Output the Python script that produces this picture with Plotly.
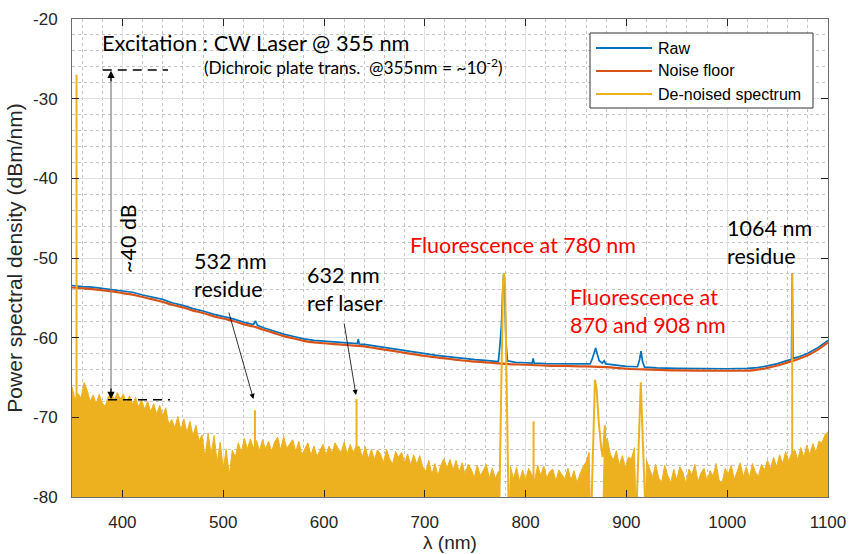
import plotly.graph_objects as go

# ---------------- data ----------------
# Noise floor (dBm/nm)
floor_x = [350, 360, 370, 380, 390, 400, 410, 420, 430, 440, 450, 460, 470, 480, 490, 500,
           510, 520, 530, 540, 550, 560, 570, 580, 590, 600, 610, 620, 630, 640, 650, 660,
           670, 680, 690, 700, 710, 720, 730, 740, 750, 760, 770, 780, 800, 820, 840, 860,
           880, 900, 925, 950, 1000, 1025, 1040, 1050, 1060, 1070, 1080, 1090, 1100]
floor_y = [-53.7, -53.8, -53.9, -54.05, -54.2, -54.4, -54.6, -54.9, -55.2, -55.5, -55.9, -56.2,
           -56.6, -56.9, -57.3, -57.6, -57.9, -58.3, -58.6, -59.0, -59.4, -59.8, -60.1, -60.4,
           -60.6, -60.7, -60.8, -60.9, -61.0, -61.1, -61.3, -61.5, -61.7, -61.9, -62.1, -62.3,
           -62.45, -62.6, -62.75, -62.9, -63.0, -63.1, -63.2, -63.3, -63.4, -63.5, -63.55, -63.6,
           -63.7, -63.9, -64.0, -64.1, -64.15, -64.1, -63.8, -63.5, -63.1, -62.7, -62.2, -61.5, -60.6]

# Raw spectrum
raw_x = [350, 360, 370, 380, 390, 400, 410, 420, 430, 440, 450, 460, 470, 480, 490, 500, 510,
         520, 530, 532, 534, 540, 550, 560, 570, 580, 590, 600, 610, 620, 630, 633, 634, 635,
         640, 650, 660, 670, 680, 690, 700, 710, 720, 730, 740, 750, 760, 770, 773, 774.5, 776,
         777.5, 778.3, 779.3, 780.5, 782, 790, 800, 806.5, 807.5, 808.5, 820, 840, 860, 864, 866,
         868, 869.5, 871, 873, 876, 878, 879.5, 890, 900, 911, 913, 914.5, 916, 918, 930, 950,
         975, 1000, 1020, 1030, 1040, 1050, 1060, 1063.8, 1064.5, 1065.2, 1070, 1080, 1090, 1100]
raw_y = [-53.45, -53.6, -53.65, -53.8, -53.95, -54.15, -54.3, -54.65, -54.95, -55.2, -55.65,
         -55.95, -56.35, -56.65, -57.05, -57.35, -57.65, -58.05, -58.35, -57.9, -58.45, -58.75,
         -59.15, -59.55, -59.85, -60.15, -60.35, -60.45, -60.55, -60.65, -60.75, -60.75, -60.2,
         -60.8, -60.85, -61.05, -61.25, -61.45, -61.65, -61.85, -62.05, -62.2, -62.35, -62.5,
         -62.65, -62.75, -62.85, -62.95, -63.0, -61.0, -58.5, -53.5, -51.9, -54.5, -60.5, -62.9,
         -63.1, -63.15, -63.2, -62.6, -63.2, -63.25, -63.3, -63.35, -63.3, -62.7, -61.8, -61.3,
         -62.0, -62.9, -63.2, -62.9, -63.3, -63.45, -63.6, -63.65, -62.8, -61.7, -63.0, -63.7,
         -63.8, -63.85, -63.9, -63.9, -63.85, -63.75, -63.55, -63.25, -62.85, -62.75, -51.9,
         -62.6, -62.45, -61.95, -61.25, -60.35]

# De-noised spectrum: noisy residual envelope sampled every 3 nm (-90 = below display floor)
dn_x = list(range(350, 1101, 3))
dn_y = [
    -66.2, -67.8, -67.0, -67.6, -65.6, -66.6, -68.0, -67.2, -68.3, -67.1,   # 350-377
    -68.2, -68.6, -67.4, -67.0, -67.8, -66.9, -67.7, -67.1, -68.2, -67.3,   # 380-407
    -68.4, -67.5, -68.7, -67.8, -69.0, -68.0, -69.3, -68.3, -69.6, -68.5,   # 410-437
    -69.8, -68.8, -70.9, -70.3, -71.3, -69.9, -71.6, -70.2, -71.9, -70.5,   # 440-467
    -72.3, -71.0, -73.0, -72.2, -75.1, -72.0, -74.6, -72.3, -75.6, -73.1,   # 470-497
    -76.4, -74.0, -77.3, -74.1, -75.0, -73.2, -74.4, -72.6, -74.0, -72.7,   # 500-527
    -73.9, -72.9, -74.2, -72.8, -74.0, -73.0, -74.3, -73.1, -72.5, -74.1,   # 530-557
    -72.4, -73.9, -73.4, -72.8, -74.3, -73.0, -74.7, -74.0, -73.2, -74.8,   # 560-587
    -73.6, -74.9, -74.1, -73.4, -74.7, -73.6, -74.5, -73.2, -73.9, -74.4,   # 590-617
    -73.1, -74.6, -73.4, -74.4, -73.6, -73.7, -75.0, -73.7, -75.2, -74.0,   # 620-647
    -75.3, -74.1, -74.6, -75.7, -74.0, -75.2, -75.9, -74.3, -75.0, -74.4,   # 650-677
    -75.7, -74.6, -76.0, -74.7, -75.9, -74.8, -76.2, -76.8, -75.4, -77.2,   # 680-707
    -75.8, -77.3, -76.0, -75.2, -76.4, -75.3, -76.6, -75.4, -76.9, -75.7,   # 710-737
    -77.2, -75.9, -76.5, -77.6, -76.0, -77.3, -76.7, -75.9, -77.6, -76.4,   # 740-767
    -77.7, -76.8, -90.0, -90.0, -90.0, -76.2, -77.7, -76.3, -78.0, -76.6,   # 770-797
    -77.8, -76.4, -77.1, -77.9, -76.0, -77.3, -76.1, -77.6, -76.8, -76.5,   # 800-827
    -78.0, -76.6, -77.2, -77.7, -76.4, -77.9, -76.7, -78.2, -77.1, -76.2,   # 830-857
    -75.6, -74.4, -90.0, -90.0, -90.0, -90.0, -74.3, -72.6, -74.6, -75.4,   # 860-887
    -74.2, -76.0, -74.8, -76.3, -75.0, -75.2, -73.8, -90.0, -90.0, -90.0,   # 890-917
    -75.4, -76.4, -77.5, -75.9, -77.6, -78.1, -76.0, -77.3, -78.2, -76.5,   # 920-947
    -77.9, -76.2, -76.9, -78.3, -76.5, -77.2, -75.9, -78.1, -77.0, -76.4,   # 950-977
    -78.0, -76.7, -77.4, -75.8, -77.9, -78.2, -76.4, -77.1, -76.0, -77.8,   # 980-1007
    -76.6, -75.7, -77.5, -76.2, -77.6, -75.8, -76.9, -77.4, -75.9, -76.6,   # 1010-1037
    -75.4, -76.5, -75.0, -76.2, -74.7, -75.8, -74.3, -75.5, -74.5, -74.1,   # 1040-1067
    -75.3, -73.8, -75.0, -73.5, -74.7, -73.3, -74.4, -73.0, -73.2, -72.2,   # 1070-1097
    -71.8,                                                                  # 1100
]

# Narrow residual lines (nm, peak dBm/nm)
spike_nm = [354.5, 531.5, 632.3, 807.9, 1064.5]
spike_top = [-27.0, -69.1, -67.7, -70.5, -51.9]

# Fluorescence peaks in the de-noised spectrum
p780_x = [773.8, 777.6, 778.6, 779.6, 783.2]
p780_y = [-82.0, -53.0, -51.9, -53.0, -82.0]
p870_x = [865.5, 867.0, 868.8, 870.5, 872.5, 875.0, 876.5, 878.6, 879.5]
p870_y = [-80.5, -72.0, -65.3, -66.5, -70.5, -73.8, -75.0, -71.0, -76.0]
p915_x = [910.3, 912.5, 914.3, 916.0, 918.5]
p915_y = [-80.5, -72.0, -65.6, -72.0, -80.5]

x_ticks = [400, 500, 600, 700, 800, 900, 1000, 1100]
y_ticks = [-80, -70, -60, -50, -40, -30, -20]
y_ticktext = ["-80", "-70", "-60", "-50", "-40", "-30", "-20"]

legend_names = ["Raw", "Noise floor", "De-noised spectrum"]

# ---------------- figure ----------------
C_RAW, C_FLOOR, C_DN = "#0072BD", "#D95319", "#EDB120"
legend_colors = [C_RAW, C_FLOOR, C_DN]
FLOOR_BASE = -90

fig = go.Figure()
fig.add_trace(go.Scatter(x=raw_x, y=raw_y, mode="lines", name="Raw",
                         line=dict(color=C_RAW, width=1.7)))
fig.add_trace(go.Scatter(x=floor_x, y=floor_y, mode="lines", name="Noise floor",
                         line=dict(color=C_FLOOR, width=2.2, shape="spline")))

fill_x = [dn_x[0]] + dn_x + [dn_x[-1]]
fill_y = [FLOOR_BASE] + dn_y + [FLOOR_BASE]
fig.add_trace(go.Scatter(x=fill_x, y=fill_y, mode="lines", fill="toself",
                         fillcolor=C_DN, line=dict(color=C_DN, width=1),
                         name="De-noised spectrum", hoverinfo="skip"))

pk_x, pk_y = [], []
for s, t in zip(spike_nm, spike_top):
    pk_x += [s, s, None]
    pk_y += [FLOOR_BASE, t, None]
for xs, ys in [(p780_x, p780_y), (p870_x, p870_y), (p915_x, p915_y)]:
    pk_x += xs + [None]
    pk_y += ys + [None]
fig.add_trace(go.Scatter(x=pk_x, y=pk_y, mode="lines", name="De-noised spectrum",
                         line=dict(color=C_DN, width=2), connectgaps=False))

AX_FONT = dict(family="Liberation Sans, Arial", size=17, color="#262626")
ANN = "Lato, Open Sans, sans-serif"
AXLINE = "#6e6e6e"

fig.update_layout(
    width=849, height=554,
    margin=dict(l=72, r=21, t=19, b=57),
    paper_bgcolor="white", plot_bgcolor="white",
    showlegend=False,
    xaxis=dict(range=[350, 1100], tickvals=x_ticks, ticks="inside", ticklen=7,
               tickcolor="#262626", showline=True, linecolor=AXLINE, linewidth=1,
               mirror="ticks", showgrid=True, gridcolor="#e0e0e0", gridwidth=1,
               zeroline=False, tickfont=AX_FONT, ticklabelstandoff=10,
               minor=dict(dtick=20, tick0=0, showgrid=True, griddash="dot",
                          gridcolor="#c4c4c4", gridwidth=1),
               title=dict(text="λ (nm)", font=dict(family="Liberation Sans, Arial", size=19,
                                                     color="#262626"), standoff=4),
               automargin=False),
    yaxis=dict(range=[-80, -20], tickvals=y_ticks, ticktext=y_ticktext, ticks="inside",
               ticklen=7, tickcolor="#262626", showline=True, linecolor=AXLINE,
               linewidth=1, mirror="ticks", showgrid=True, gridcolor="#e0e0e0",
               zeroline=False, tickfont=AX_FONT, ticklabelstandoff=10,
               minor=dict(dtick=2, tick0=0, showgrid=True, griddash="dot",
                          gridcolor="#c4c4c4", gridwidth=1),
               title=dict(text="Power spectral density (dBm/nm)",
                          font=dict(family="Liberation Sans, Arial", size=21, color="#262626"),
                          standoff=4),
               automargin=False),
)

# ---- legend box (drawn in paper coordinates) ----
def px2paper_x(px):
    return (px - 72) / 756.0

def px2paper_y(py):
    return (497 - py) / 478.0

fig.add_shape(type="rect", xref="paper", yref="paper",
              x0=px2paper_x(590), x1=px2paper_x(813), y0=px2paper_y(108), y1=px2paper_y(33),
              line=dict(color="#333333", width=1), fillcolor="white", layer="above")
for i, (nm, col) in enumerate(zip(legend_names, legend_colors)):
    yy = px2paper_y(48 + 23 * i)
    fig.add_shape(type="line", xref="paper", yref="paper",
                  x0=px2paper_x(596), x1=px2paper_x(652), y0=yy, y1=yy,
                  line=dict(color=col, width=2), layer="above")
    fig.add_annotation(xref="paper", yref="paper", x=px2paper_x(656), y=yy, text=nm,
                       showarrow=False, xanchor="left", yanchor="middle",
                       font=dict(family="Liberation Sans, Arial", size=16, color="black"))

# dashed reference levels and the ~40 dB double arrow
fig.add_shape(type="line", x0=380.5, x1=445.2, y0=-26.4, y1=-26.4,
              line=dict(color="black", width=1.6, dash="9px,6px"))
fig.add_shape(type="line", x0=385.7, x1=447.2, y0=-67.8, y1=-67.8,
              line=dict(color="black", width=1.6, dash="9px,6px"))
fig.add_shape(type="line", x0=388.7, x1=388.7, y0=-27.3, y1=-66.9,
              line=dict(color="#7f7f7f", width=1.2))
fig.add_annotation(x=388.7, y=-26.5, ax=0, ay=12, text="", showarrow=True,
                   arrowhead=2, arrowsize=1.2, arrowwidth=1.2, arrowcolor="black", standoff=0)
fig.add_annotation(x=388.7, y=-67.7, ax=0, ay=-12, text="", showarrow=True,
                   arrowhead=2, arrowsize=1.2, arrowwidth=1.2, arrowcolor="black", standoff=0)

# pointer arrows
fig.add_annotation(x=530.0, y=-67.7, ax=-25, ay=-88, text="", showarrow=True,
                   arrowhead=2, arrowsize=1.3, arrowwidth=0.8, arrowcolor="black")
fig.add_annotation(x=631.7, y=-67.2, ax=-12, ay=-73, text="", showarrow=True,
                   arrowhead=2, arrowsize=1.3, arrowwidth=0.8, arrowcolor="black")

def txt(x, y, s, size=21.5, color="black", xanchor="left", angle=0, align="left"):
    fig.add_annotation(x=x, y=y, text=s, showarrow=False, xanchor=xanchor, yanchor="middle",
                       textangle=angle, align=align,
                       font=dict(family=ANN, size=size, color=color))

txt(377.8, -22.9, "Excitation : CW Laser @ 355 nm", size=21.8)
txt(479.0, -25.9, "(Dichroic plate trans.  @355nm = ~10<sup>-2</sup>)", size=17.3)
txt(405.6, -47.6, "~40 dB", angle=-90, xanchor="center")
txt(469.0, -52.1, "532 nm<br>residue")
txt(581.1, -53.9, "632 nm<br>ref laser")
txt(797.0, -48.4, "Fluorescence at 780 nm", color="red", xanchor="center")
txt(842.1, -56.65, "Fluorescence at<br>870 and 908 nm", color="red")
txt(997.8, -48.0, "1064 nm<br>residue")

fig.write_html("out.html")
